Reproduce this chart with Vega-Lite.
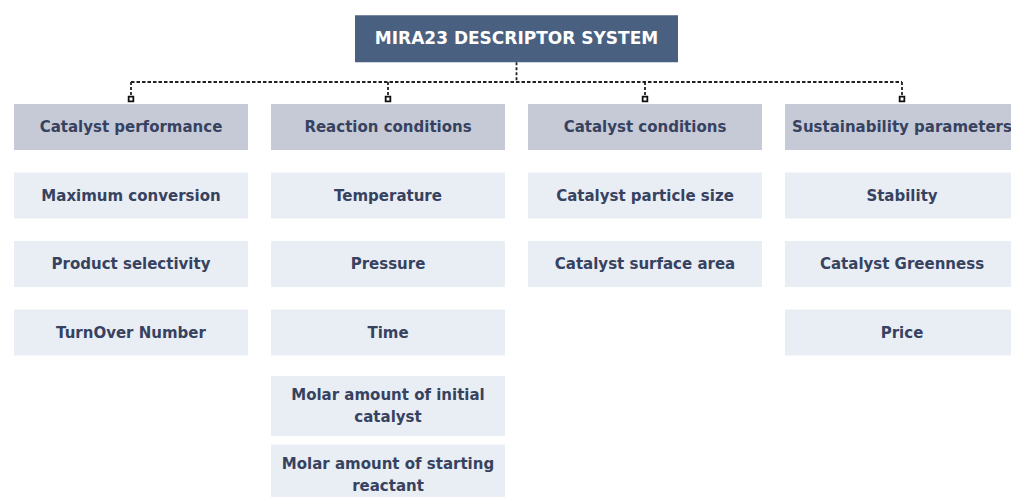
{
  "$schema": "https://vega.github.io/schema/vega-lite/v6.json",
  "width": 1011,
  "height": 497,
  "autosize": {"type": "none"},
  "padding": 0,
  "background": "white",
  "config": {"view": {"stroke": null}},
  "data": {
    "values": [
      {"label": "MIRA23 DESCRIPTOR SYSTEM", "level": "root", "col": 1.5, "row": -1.29},
      {"label": "Catalyst performance", "level": "group", "col": 0, "row": 0},
      {"label": "Reaction conditions", "level": "group", "col": 1, "row": 0},
      {"label": "Catalyst conditions", "level": "group", "col": 2, "row": 0},
      {"label": "Sustainability parameters", "level": "group", "col": 3, "row": 0},
      {"label": "Maximum conversion", "level": "item", "col": 0, "row": 1},
      {"label": "Product selectivity", "level": "item", "col": 0, "row": 2},
      {"label": "TurnOver Number", "level": "item", "col": 0, "row": 3},
      {"label": "Temperature", "level": "item", "col": 1, "row": 1},
      {"label": "Pressure", "level": "item", "col": 1, "row": 2},
      {"label": "Time", "level": "item", "col": 1, "row": 3},
      {"label": "Molar amount of initial\ncatalyst", "level": "item2", "col": 1, "row": 4},
      {"label": "Molar amount of starting\nreactant", "level": "item2", "col": 1, "row": 5},
      {"label": "Catalyst particle size", "level": "item", "col": 2, "row": 1},
      {"label": "Catalyst surface area", "level": "item", "col": 2, "row": 2},
      {"label": "Stability", "level": "item", "col": 3, "row": 1},
      {"label": "Catalyst Greenness", "level": "item", "col": 3, "row": 2},
      {"label": "Price", "level": "item", "col": 3, "row": 3}
    ]
  },
  "encoding": {
    "x": {"field": "col", "type": "quantitative", "axis": null,
          "scale": {"domain": [-0.5097, 3.4241], "zero": false, "nice": false}},
    "y": {"field": "row", "type": "quantitative", "axis": null,
          "scale": {"domain": [-1.854, 5.401], "zero": false, "nice": false, "reverse": true}}
  },
  "layer": [
    {
      "transform": [{"filter": "datum.level === 'group'"}],
      "mark": {"type": "rule", "color": "#222222", "strokeWidth": 1.8, "strokeDash": [3.5, 2], "yOffset": -45},
      "encoding": {
        "x": {"aggregate": "min", "field": "col", "type": "quantitative", "axis": null},
        "x2": {"aggregate": "max", "field": "col"},
        "y": {"aggregate": "min", "field": "row", "type": "quantitative", "axis": null}
      }
    },
    {
      "transform": [{"filter": "datum.level === 'group'"}],
      "mark": {"type": "rule", "color": "#222222", "strokeWidth": 1.8, "strokeDash": [3, 2], "yOffset": -45, "y2Offset": -30},
      "encoding": {"y2": {"field": "row"}}
    },
    {
      "transform": [{"filter": "datum.level === 'root'"}],
      "mark": {"type": "rule", "color": "#222222", "strokeWidth": 1.8, "strokeDash": [3, 2], "yOffset": 23.5, "y2Offset": 44},
      "encoding": {"y2": {"field": "row"}}
    },
    {
      "transform": [{"filter": "datum.level === 'group'"}],
      "mark": {"type": "point", "shape": "square", "filled": true, "fill": "white", "stroke": "#111111", "strokeWidth": 1.8, "size": 22, "opacity": 1, "yOffset": -28},
      "encoding": {}
    },
    {
      "transform": [{"filter": "datum.level === 'root'"}],
      "mark": {"type": "rect", "width": 323, "height": 47, "fill": "#4a6080"},
      "encoding": {}
    },
    {
      "transform": [{"filter": "datum.level === 'group'"}],
      "mark": {"type": "rect", "width": 234, "height": 46, "fill": "#c6cad7"},
      "encoding": {}
    },
    {
      "transform": [{"filter": "datum.level === 'item'"}],
      "mark": {"type": "rect", "width": 234, "height": 46, "fill": "#e9edf4"},
      "encoding": {}
    },
    {
      "transform": [{"filter": "datum.level === 'item2'"}],
      "mark": {"type": "rect", "width": 234, "height": 60, "fill": "#e9edf4", "yOffset": 5},
      "encoding": {}
    },
    {
      "transform": [{"filter": "datum.level === 'root'"}],
      "mark": {"type": "text", "font": "DejaVu Sans", "fontWeight": "bold", "fontSize": 17, "color": "white", "align": "center", "baseline": "middle"},
      "encoding": {"text": {"field": "label"}}
    },
    {
      "transform": [{"filter": "datum.level === 'group'"}],
      "mark": {"type": "text", "font": "DejaVu Sans", "fontWeight": "bold", "fontSize": 15, "color": "#36425f", "align": "center", "baseline": "middle"},
      "encoding": {"text": {"field": "label"}}
    },
    {
      "transform": [{"filter": "datum.level === 'item'"}],
      "mark": {"type": "text", "font": "DejaVu Sans", "fontWeight": "bold", "fontSize": 15, "color": "#36425f", "align": "center", "baseline": "middle"},
      "encoding": {"text": {"field": "label"}}
    },
    {
      "transform": [{"filter": "datum.level === 'item2'"}],
      "mark": {"type": "text", "font": "DejaVu Sans", "fontWeight": "bold", "fontSize": 15, "color": "#36425f", "align": "center", "baseline": "middle", "lineBreak": "\n", "lineHeight": 22, "yOffset": -6},
      "encoding": {"text": {"field": "label"}}
    }
  ]
}
